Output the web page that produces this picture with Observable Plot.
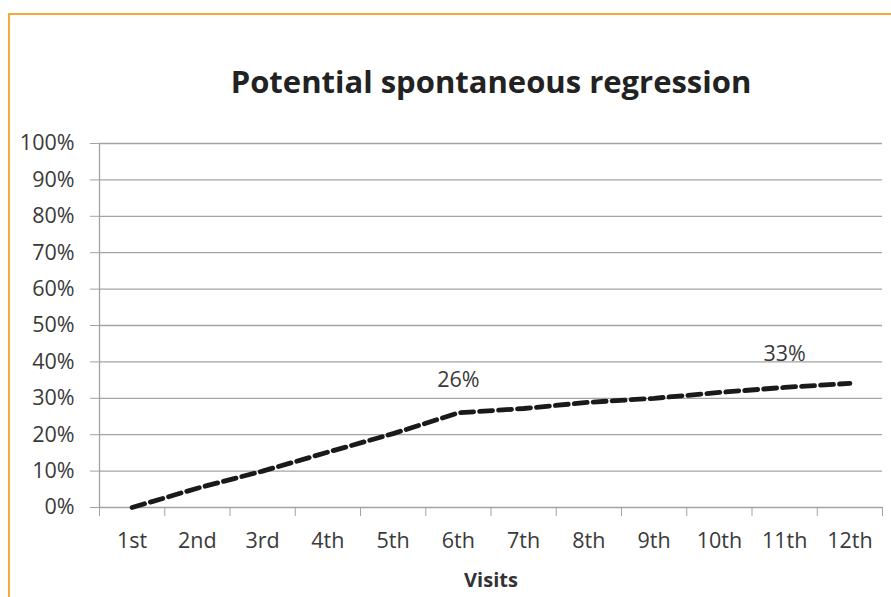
<!DOCTYPE html>
<html>
<head>
<meta charset="utf-8">
<script src="https://cdn.jsdelivr.net/npm/d3@7"></script>
<script src="https://cdn.jsdelivr.net/npm/@observablehq/plot@0.6"></script>
<style>
  html, body { margin: 0; padding: 0; background: #fff; overflow: hidden; }
  #wrap { position: relative; width: 891px; height: 597px; }
  #border { position: absolute; left: 8px; top: 13px; width: 1000px; height: 1000px;
            border: 2px solid #f7a93b; box-sizing: border-box; pointer-events: none; }
  svg text { font-variant-ligatures: none; }
</style>
</head>
<body>
<div id="wrap"><div id="border"></div></div>
<script>
const title = "Potential spontaneous regression";
const xTitle = "Visits";
const visits = ["1st","2nd","3rd","4th","5th","6th","7th","8th","9th","10th","11th","12th"];
const regression = [0, 0.053, 0.10, 0.152, 0.203, 0.26, 0.272, 0.289, 0.30, 0.316, 0.33, 0.341];
const labelVisits = ["6th", "11th"];
const labelValues = [0.26, 0.33];
const yTicks = [0, 0.1, 0.2, 0.3, 0.4, 0.5, 0.6, 0.7, 0.8, 0.9, 1.0];

const data = visits.map((v, i) => ({pos: i + 1, visit: v, value: regression[i]}));
const labels = labelVisits.map((v, i) => ({pos: visits.indexOf(v) + 1, value: labelValues[i], text: d3.format(".0%")(labelValues[i])}));
const positions = visits.map((v, i) => i + 1);
const boundaries = d3.range(0, visits.length + 1).map(i => i + 0.5);

const chart = Plot.plot({
  width: 891,
  height: 597,
  marginLeft: 99,
  marginRight: 9,
  marginTop: 143,
  marginBottom: 90,
  style: {background: "transparent", fontFamily: "'Open Sans', Lato, sans-serif"},
  x: {type: "linear", domain: [0.5, 12.5]},
  y: {domain: [0, 1]},
  marks: [
    Plot.gridY(yTicks, {stroke: "#a3a3a3", strokeOpacity: 1, strokeWidth: 1.3}),
    Plot.ruleX([0.5], {y1: 0, y2: 1, stroke: "#a3a3a3", strokeWidth: 1.3}),
    Plot.axisY({ticks: yTicks, tickFormat: d3.format(".0%"), tickSize: 9, tickPadding: 16,
                fontSize: 21.5, color: "#3a3a3a", stroke: "#a3a3a3", label: null}),
    Plot.axisX({ticks: boundaries, tickSize: 9, tickFormat: () => "", stroke: "#a3a3a3", label: null}),
    Plot.axisX({ticks: positions, tickSize: 0, tickPadding: 25, tickFormat: d => visits[d - 1],
                fontSize: 21.5, color: "#3a3a3a", label: null}),
    Plot.line(data, {x: "pos", y: "value", stroke: "#1a1a1a", strokeWidth: 4.8,
                     strokeDasharray: "13,6"}),
    Plot.text(labels, {x: "pos", y: "value", text: "text", dy: -33, fontSize: 21.5, fill: "#3a3a3a"}),
    Plot.text([title], {frameAnchor: "top", lineAnchor: "middle", dy: -60, fontSize: 31, fontWeight: "bold", fill: "#222"}),
    Plot.text([xTitle], {frameAnchor: "bottom", lineAnchor: "middle", dy: 73, fontSize: 20, fontWeight: "bold", fill: "#333"})
  ]
});
document.getElementById("wrap").prepend(chart);
</script>
</body>
</html>
